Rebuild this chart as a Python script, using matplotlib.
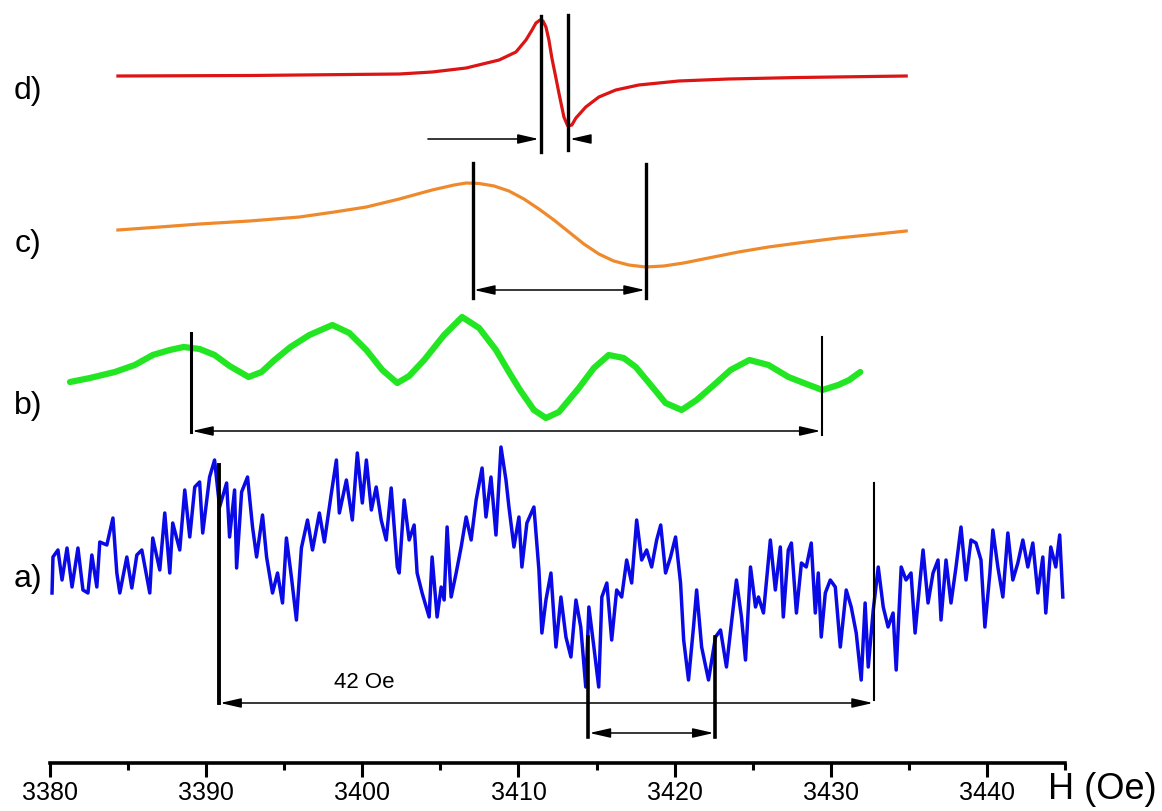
import matplotlib
matplotlib.use("Agg")
import matplotlib.pyplot as plt

plt.rcParams['font.family'] = ['Liberation Sans', 'DejaVu Sans']

# --- a) blue, noisy spectrum -------------------------------------------
H_a = [3380.13, 3380.19, 3380.51, 3380.77, 3381.09, 3381.41, 3381.79, 3382.11, 3382.43, 3382.68,
       3383.00, 3383.19, 3383.64, 3384.03, 3384.28, 3384.47, 3384.92, 3385.24, 3385.56, 3385.88,
       3386.39, 3386.58, 3387.03, 3387.35, 3387.67, 3387.86, 3388.31, 3388.63, 3388.95, 3389.27,
       3389.58, 3389.78, 3390.22, 3390.54, 3390.86, 3391.31, 3391.50, 3391.82, 3391.95, 3392.27,
       3392.65, 3392.97, 3393.23, 3393.61, 3393.87, 3394.25, 3394.57, 3394.89, 3395.14, 3395.46,
       3395.78, 3396.10, 3396.49, 3396.81, 3397.25, 3397.57, 3398.02, 3398.34, 3398.53, 3398.98,
       3399.36, 3399.68, 3400.00, 3400.26, 3400.58, 3400.89, 3401.21, 3401.53, 3401.85, 3402.24,
       3402.36, 3402.68, 3403.00, 3403.32, 3403.51, 3403.83, 3404.28, 3404.47, 3404.79, 3405.05,
       3405.24, 3405.43, 3405.69, 3406.01, 3406.33, 3406.65, 3406.97, 3407.29, 3407.67, 3407.92,
       3408.24, 3408.56, 3408.88, 3409.20, 3409.39, 3409.71, 3410.03, 3410.22, 3410.54, 3410.99,
       3411.31, 3411.50, 3411.76, 3412.08, 3412.40, 3412.72, 3413.04, 3413.36, 3413.68, 3413.99,
       3414.31, 3414.51, 3414.83, 3415.14, 3415.34, 3415.66, 3415.97, 3416.29, 3416.61, 3416.93,
       3417.25, 3417.57, 3417.89, 3418.21, 3418.53, 3418.85, 3419.11, 3419.42, 3419.74, 3420.06,
       3420.38, 3420.58, 3420.89, 3421.21, 3421.41, 3421.73, 3422.17, 3422.62, 3422.94, 3423.32,
       3423.64, 3423.96, 3424.28, 3424.54, 3424.86, 3425.18, 3425.37, 3425.69, 3426.13, 3426.45,
       3426.77, 3426.96, 3427.28, 3427.48, 3427.80, 3428.12, 3428.43, 3428.75, 3429.01, 3429.20,
       3429.39, 3429.65, 3429.97, 3430.29, 3430.61, 3430.99, 3431.31, 3431.63, 3431.95, 3432.20,
       3432.40, 3432.72, 3433.04, 3433.36, 3433.67, 3433.99, 3434.19, 3434.51, 3434.82, 3435.14,
       3435.40, 3435.72, 3435.91, 3436.23, 3436.55, 3436.87, 3437.06, 3437.38, 3437.70, 3438.02,
       3438.34, 3438.66, 3438.98, 3439.30, 3439.62, 3439.87, 3440.19, 3440.38, 3440.70, 3441.02,
       3441.34, 3441.66, 3441.98, 3442.30, 3442.62, 3442.94, 3443.26, 3443.58, 3443.77, 3444.09,
       3444.41, 3444.66, 3444.86]
I_a = [-3, 33, 40, 10, 42, 3, 42, 0, -3, 35,
       3, 48, 45, 72, 17, -3, 33, 2, 35, 40,
       -3, 52, 20, 77, 17, 67, 40, 100, 53, 103,
       108, 57, 113, 130, 83, 107, 53, 100, 22, 98,
       113, 63, 33, 75, 33, -3, 17, -13, 52, 13,
       -30, 42, 70, 40, 77, 48, 97, 130, 77, 110,
       70, 137, 87, 130, 80, 103, 70, 50, 102, 23,
       17, 90, 50, 65, 17, -3, -27, 33, -27, 3,
       -10, 63, -7, 17, 43, 73, 50, 90, 122, 73,
       113, 55, 143, 110, 83, 43, 73, 23, 67, 83,
       20, -43, -10, 17, -57, -7, -47, -67, -10, -37,
       -97, -17, -57, -97, -7, 7, -50, 0, -7, 30,
       7, 70, 30, 40, 23, 50, 65, 17, 33, 53,
       7, -50, -90, -37, 0, -57, -90, -47, -40, -77,
       -33, 10, -27, -70, 23, -17, -7, -23, 50, 0,
       43, -27, 40, 47, -23, 27, 23, 47, -23, 17,
       -47, -3, 10, 3, -57, 0, -17, -43, -90, -13,
       -77, -20, 23, -17, -37, -23, -80, 23, 10, 17,
       -43, 10, 40, -13, 17, 30, -30, 30, -13, 23,
       63, 10, 50, 47, 30, -37, 17, 60, 23, -7,
       57, 10, 27, 50, 23, 47, -3, 33, -23, 43,
       23, 55, -7]

# --- b) green ------------------------------------------------------------
H_b = [3381.28, 3382.56, 3384.15, 3385.43, 3386.58, 3387.67, 3388.56, 3389.58, 3390.54, 3391.50,
       3392.72, 3393.55, 3394.38, 3395.40, 3396.61, 3398.08, 3399.17, 3400.26, 3401.28, 3402.24,
       3403.00, 3403.96, 3405.24, 3406.39, 3407.48, 3408.56, 3409.39, 3410.10, 3410.99, 3411.76,
       3412.59, 3413.23, 3413.87, 3414.83, 3415.78, 3416.74, 3417.51, 3418.47, 3419.42, 3420.45,
       3421.41, 3422.37, 3423.58, 3424.79, 3426.01, 3427.29, 3428.44, 3429.46, 3430.48, 3431.18,
       3431.89]
I_b = [-2, 2, 8, 15, 25, 30, 33, 31, 25, 14,
       3, 8, 20, 33, 45, 55, 47, 30, 10, -3,
       4, 20, 45, 63, 52, 30, 8, -10, -30, -38,
       -32, -20, -8, 12, 25, 22, 13, -5, -23, -30,
       -20, -7, 10, 20, 15, 3, -4, -10, -5, 0,
       8]

# --- c) orange -----------------------------------------------------------
H_c = [3384.35, 3387.03, 3389.58, 3392.78, 3395.98, 3398.21, 3400.26, 3402.37, 3404.47, 3405.88,
       3406.65, 3407.48, 3408.44, 3409.39, 3410.35, 3411.31, 3412.27, 3413.23, 3414.19, 3415.15,
       3416.10, 3417.06, 3418.15, 3419.30, 3420.58, 3422.17, 3424.09, 3426.01, 3427.93, 3430.48,
       3432.72, 3434.83]
I_c = [0, 3, 6, 9, 13, 18, 23, 31, 40, 45,
       47, 46.5, 44, 39, 31, 21, 10, -2, -14, -24,
       -31, -35, -37, -36, -33, -28, -22, -17, -13, -8,
       -4.5, -1]

# --- d) red --------------------------------------------------------------
H_d = [3384.35, 3392.78, 3399.17, 3402.37, 3404.47, 3406.65, 3408.76, 3409.84, 3410.48, 3410.87,
       3411.12, 3411.38, 3411.57, 3411.76, 3411.95, 3412.14, 3412.40, 3412.59, 3412.91, 3413.16,
       3413.42, 3413.68, 3414.31, 3415.15, 3416.23, 3417.70, 3420.26, 3423.45, 3427.93, 3434.83]
I_d = [0, 0.5, 1.5, 2, 4, 8, 16, 24, 36, 46,
       53, 56, 55, 49, 36, 18, -2, -17, -41, -50,
       -49, -42, -31, -21, -14, -9, -5, -3, -1.5, 0]

offsets = {'a': 173, 'b': 383, 'c': 533, 'd': 687}

# marker lines: (field, y bottom, y top, width)
marks = [
    (3411.42, 611, 747, 2.4), (3413.18, 613, 748, 2.4),   # d
    (3407.09, 465, 600, 2.4), (3418.17, 465, 599, 2.4),   # c
    (3389.03, 331, 430, 2.2), (3429.41, 328, 426, 1.5),   # b
    (3390.82, 60, 298, 2.8), (3432.78, 63, 280, 1.5),     # a, 42 Oe
    (3414.46, 26, 126, 2.6), (3422.60, 26, 126, 2.6),     # a, inner
]

fig = plt.figure(figsize=(11.62, 8.12), dpi=100)
ax = fig.add_axes([50 / 1162, 48 / 812, 1015 / 1162, 764 / 812])

ax.plot(H_a, [v + offsets['a'] for v in I_a], color='#0a0ae6', lw=2.5, clip_on=False,
        solid_joinstyle='round')
ax.plot(H_b, [v + offsets['b'] for v in I_b], color='#22e622', lw=4.5, clip_on=False,
        solid_capstyle='round', solid_joinstyle='round')
ax.plot(H_c, [v + offsets['c'] for v in I_c], color='#ef8a2c', lw=2.3, clip_on=False)
ax.plot(H_d, [v + offsets['d'] for v in I_d], color='#dc1414', lw=2.3, clip_on=False)

for h, y0, y1, w in marks:
    ax.plot([h, h], [y0, y1], color='black', lw=w, clip_on=False)


def arrow(x0, x1, y, style):
    ax.annotate('', xy=(x1, y), xytext=(x0, y),
                arrowprops=dict(arrowstyle=style + ',head_length=0.7,head_width=0.16',
                                color='black', lw=1.1, mutation_scale=18,
                                shrinkA=0, shrinkB=0))


arrow(3404.2, 3411.3, 624, '-|>')
arrow(3414.4, 3413.3, 624, '-|>')
arrow(3407.15, 3418.1, 473, '<|-|>')
arrow(3389.1, 3429.35, 332, '<|-|>')
arrow(3390.9, 3432.7, 60, '<|-|>')
arrow(3414.55, 3422.5, 30, '<|-|>')

ax.text(3400.1, 81, '42 Oe', fontsize=16, ha='center', va='center')

for lab, y in [('a)', 185), ('b)', 358), ('c)', 520), ('d)', 673)]:
    ax.text(3378.6, y, lab, fontsize=23, ha='center', va='center', clip_on=False)

ax.set_xlim(3380, 3445)
ax.set_ylim(0, 764)
ax.set_xticks(range(3380, 3441, 10))
ax.set_xticks(range(3385, 3446, 10), minor=True)
ax.tick_params(axis='x', which='major', length=10, width=2.2, labelsize=18, pad=2)
ax.tick_params(axis='x', which='minor', length=5, width=2.2)
ax.set_yticks([])
for s in ['left', 'right', 'top']:
    ax.spines[s].set_visible(False)
ax.spines['bottom'].set_linewidth(2.6)
ax.patch.set_alpha(0)

fig.text(1102 / 1162, 1 - 790 / 812, 'H (Oe)', fontsize=26, ha='center', va='center')

fig.savefig('out.png', dpi=100)
